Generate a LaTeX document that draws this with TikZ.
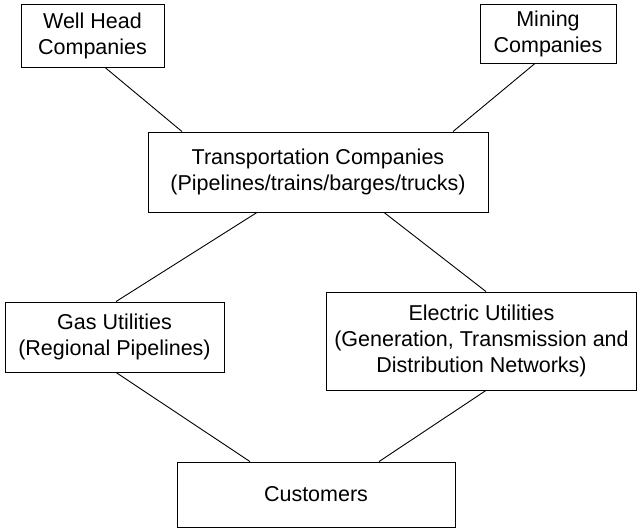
\documentclass[tikz,border=0pt]{standalone}
\usepackage{fontspec}
\setmainfont{Liberation Sans}
\begin{document}
\begin{tikzpicture}[x=1bp,y=-1bp,
  box/.style={draw=black, line width=0.9bp, inner sep=0pt, align=center,
    font=\fontsize{21.5bp}{26bp}\selectfont, text=black},
  link/.style={draw=black, line width=0.9bp}]
\useasboundingbox (0,0) rectangle (638,528);
\node[box, minimum width=143bp, minimum height=63bp] (well) at (92.5,35.5) {Well Head\\Companies};
\node[box, minimum width=136bp, minimum height=59bp] (mining) at (548,33.5) {Mining\\Companies};
\node[box, minimum width=340bp, minimum height=80bp] (trans) at (318,172) {Transportation Companies\\(Pipelines/trains/barges/trucks)};
\node[box, minimum width=219bp, minimum height=70bp] (gas) at (114.5,337) {Gas Utilities\\(Regional Pipelines)};
\node[box, minimum width=310bp, minimum height=98bp] (elec) at (481.5,341) {Electric Utilities\\(Generation, Transmission and\\Distribution Networks)};
\node[box, minimum width=278bp, minimum height=65bp] (cust) at (316,494.5) {Customers};
\draw[link] ([xshift=12.5bp]well.south) -- ([xshift=-136bp]trans.north);
\draw[link] ([xshift=-13bp]mining.south) -- ([xshift=135bp]trans.north);
\draw[link] ([xshift=-61bp]trans.south) -- ([xshift=1.5bp]gas.north);
\draw[link] ([xshift=66bp]trans.south) -- ([xshift=4.5bp]elec.north);
\draw[link] ([xshift=1.5bp]gas.south) -- ([xshift=-66bp]cust.north);
\draw[link] ([xshift=4.5bp]elec.south) -- ([xshift=63bp]cust.north);
\end{tikzpicture}
\end{document}
